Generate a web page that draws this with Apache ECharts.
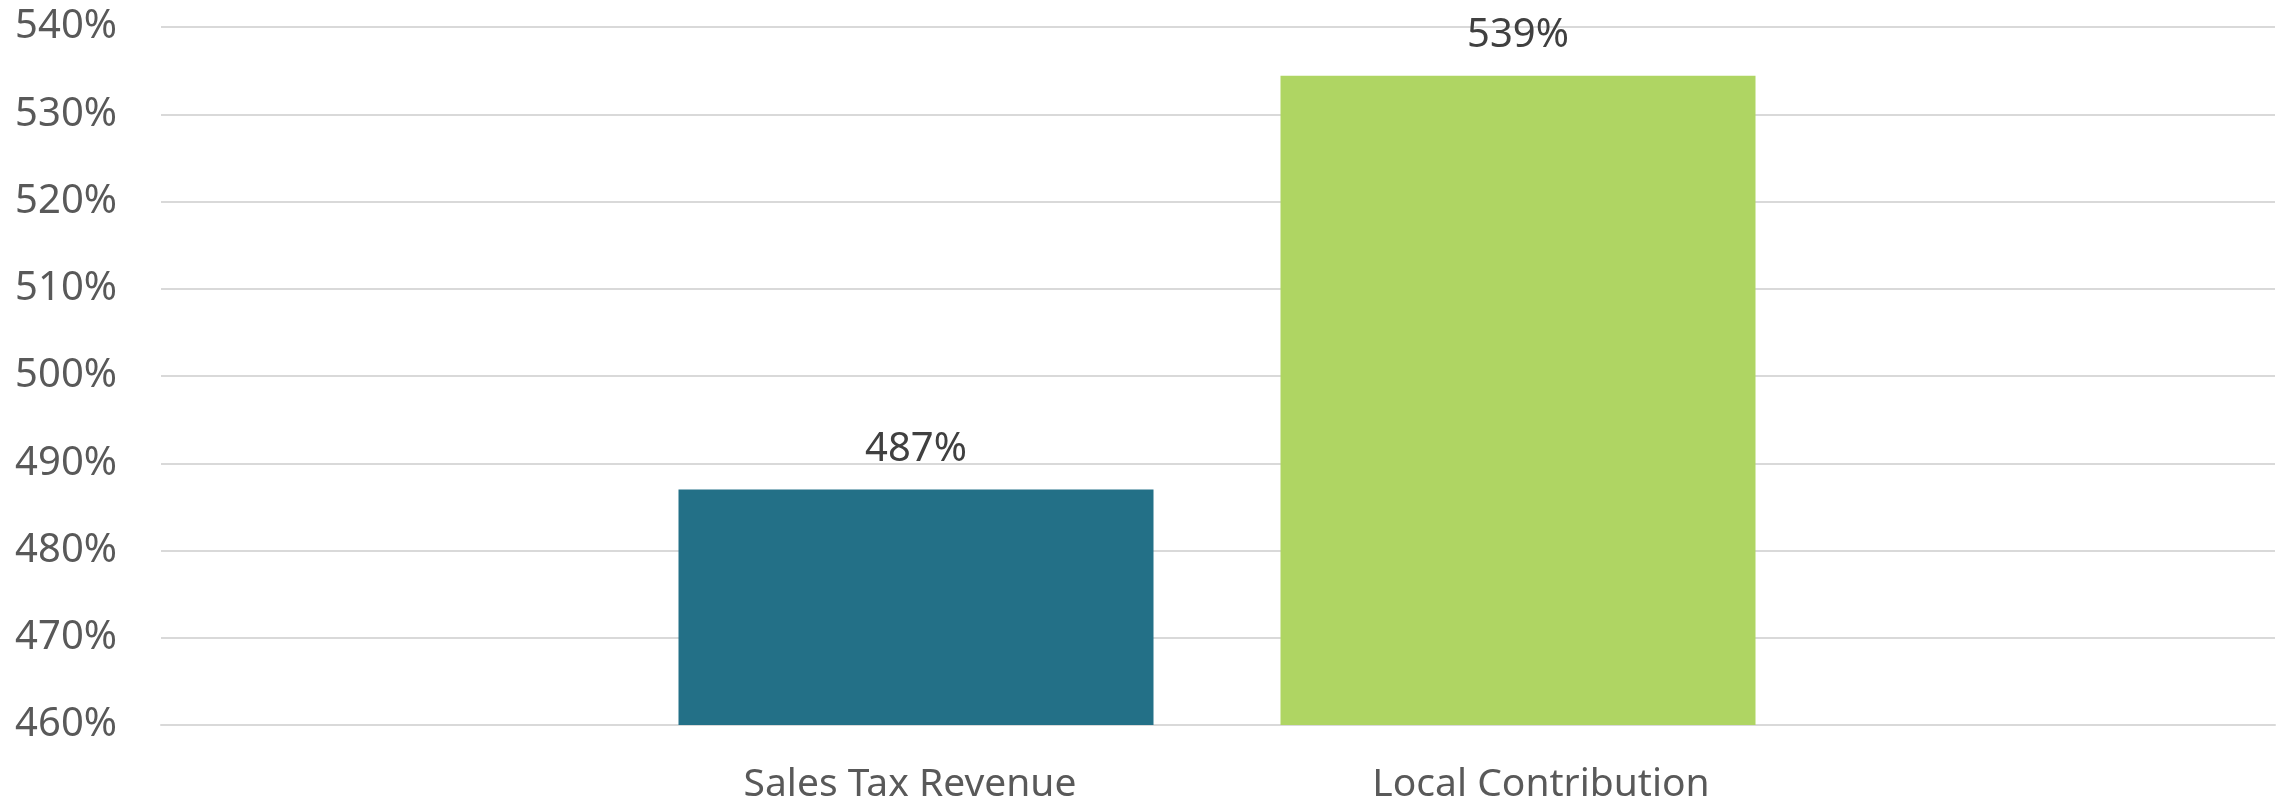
<!DOCTYPE html>
<html>
<head>
<meta charset="utf-8">
<script src="https://cdn.jsdelivr.net/npm/echarts@6/dist/echarts.min.js"></script>
<style>
  html, body { margin: 0; padding: 0; background: #fff; }
  #chart { width: 2285px; height: 797px; }
</style>
</head>
<body>
<div id="chart"></div>
<script>
// data
var categories = ['Sales Tax Revenue', 'Local Contribution'];
var values = [487, 534.4];          // bar heights as drawn
var valueLabels = ['487%', '539%']; // labels as printed on the chart
var barColors = ['#237087', '#AFD563'];
var yMin = 460, yMax = 540, yStep = 10;

var chart = echarts.init(document.getElementById('chart'));
var font = '"Noto Sans", sans-serif';

var option = {
  animation: false,
  backgroundColor: '#ffffff',
  grid: [
    // full-width grid for gridlines and y labels
    { left: 161, right: 10, top: 27, bottom: 72, outerBoundsMode: 'none' },
    // narrower grid that holds the bars and category labels
    { left: 615, width: 1204, top: 27, bottom: 72, outerBoundsMode: 'none' }
  ],
  xAxis: [
    {
      gridIndex: 0,
      type: 'category',
      data: [''],
      axisLine: { show: true, lineStyle: { color: '#d9d9d9', width: 2 } },
      axisTick: { show: false },
      axisLabel: { show: false }
    },
    {
      gridIndex: 1,
      type: 'category',
      data: categories,
      axisLine: { show: false },
      axisTick: { show: false },
      axisLabel: {
        margin: 40,
        color: '#595959',
        fontFamily: font,
        fontSize: 39,
        // excel puts the labels a bit off the bar centres
        formatter: function (v, i) { return i === 0 ? '{a|' + v + '}' : '{b|' + v + '}'; },
        rich: {
          a: { fontFamily: font, fontSize: 39, color: '#595959', padding: [0, 12, 0, 0] },
          b: { fontFamily: font, fontSize: 39, color: '#595959', padding: [0, 0, 0, 46] }
        }
      }
    }
  ],
  yAxis: [
    {
      gridIndex: 0,
      type: 'value',
      min: yMin,
      max: yMax,
      interval: yStep,
      axisLine: { show: false },
      axisTick: { show: false },
      splitLine: { lineStyle: { color: '#d9d9d9', width: 2 } },
      axisLabel: {
        margin: 44,
        color: '#595959',
        fontFamily: font,
        fontSize: 40,
        formatter: function (v) { return v + '%'; }
      }
    },
    {
      gridIndex: 1,
      type: 'value',
      min: yMin,
      max: yMax,
      interval: yStep,
      show: false,
      splitLine: { show: false }
    }
  ],
  series: [
    {
      type: 'bar',
      xAxisIndex: 1,
      yAxisIndex: 1,
      barWidth: 475,
      data: values.map(function (v, i) {
        return { value: v, itemStyle: { color: barColors[i] } };
      }),
      label: {
        show: true,
        position: 'top',
        distance: 20,
        color: '#404040',
        fontFamily: font,
        fontSize: 40,
        formatter: function (p) { return valueLabels[p.dataIndex]; }
      }
    }
  ]
};

chart.setOption(option);
</script>
</body>
</html>
